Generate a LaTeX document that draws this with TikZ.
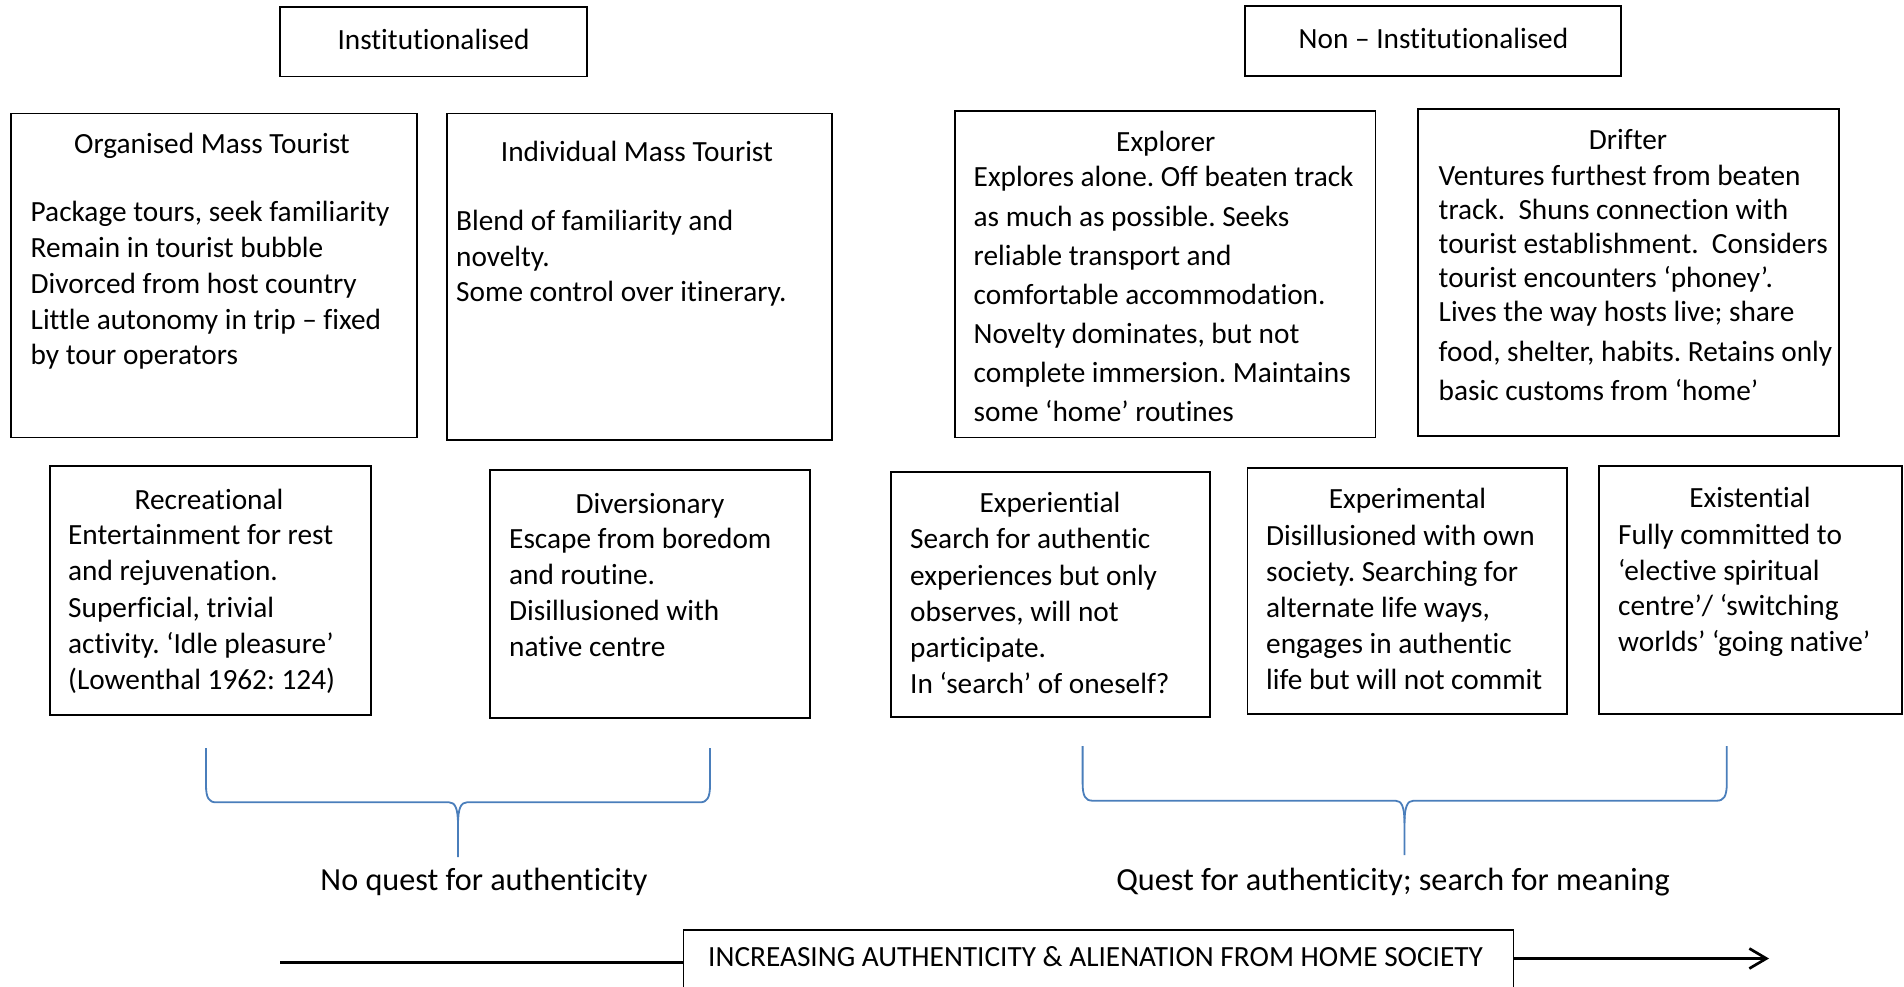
\documentclass[tikz,border=0pt]{standalone}
\usepackage{fontspec}
\setmainfont{Carlito}[Ligatures=NoCommon]
\usetikzlibrary{arrows.meta}
\definecolor{braceblue}{HTML}{4A7EBB}
\newcommand{\mytopstrut}{\rule{0pt}{24pt}}
\frenchspacing
\begin{document}
\frenchspacing
\begin{tikzpicture}[x=1pt,y=-1pt,
  box/.style={draw, line width=1.8pt, inner sep=0pt, outer sep=0pt},
  ttl/.style={anchor=base, inner sep=0pt, font=\fontsize{29.3}{36}\selectfont},
  lbl/.style={anchor=base, inner sep=0pt, font=\fontsize{32.2}{39}\selectfont},
  body/.style={anchor=north west, inner sep=0pt, align=left, font=\fontsize{29.3}{#1}\selectfont},
  bracepath/.style={draw=braceblue, line width=1.8pt, line join=round},
  arrowline/.style={line width=2.7pt}]
\useasboundingbox (0,0) rectangle (1904,987);
\clip (0,0) rectangle (1904,987);
\fill[white] (0,0) rectangle (1904,987);

% header boxes
\node[box, minimum width=307pt, minimum height=69.5pt] (inst) at (433.5,41.75) {};
\node[ttl] (instt) at (433.5,49.3) {Institutionalised};
\node[box, minimum width=376pt, minimum height=70pt] (noninst) at (1433,41) {};
\node[ttl] (noninstt) at (1433.5,48.3) {Non – Institutionalised};

% upper row
\node[box, minimum width=406pt, minimum height=324pt] (org) at (214,275.5) {};
\node[ttl] (orgt) at (212,153.3) {Organised Mass Tourist};
\node[body=35.75] (orgb) at (30.5,197.7) {\mytopstrut Package tours, seek familiarity\\Remain in tourist bubble\\Divorced from host country\\Little autonomy in trip – fixed\\by tour operators};

\node[box, minimum width=385pt, minimum height=326.5pt] (ind) at (639.5,276.75) {};
\node[ttl] (indt) at (637,161.7) {Individual Mass Tourist};
\node[body=35.5] (indb) at (456,206.7) {\mytopstrut Blend of familiarity and\\novelty.\\Some control over itinerary.};

\node[box, minimum width=420.5pt, minimum height=326.5pt] (expl) at (1165.25,274.25) {};
\node[ttl] (explt) at (1165.8,151.4) {Explorer};
\node[body=39.17] (explb) at (973.5,162.7) {\mytopstrut Explores alone. Off beaten track\\as much as possible. Seeks\\reliable transport and\\comfortable accommodation.\\Novelty dominates, but not\\complete immersion. Maintains\\some ‘home’ routines};

\node[box, minimum width=421pt, minimum height=327pt] (drif) at (1628.5,272.5) {};
\node[ttl] (drift) at (1628,149.7) {Drifter};
\node[body=34] (drifb) at (1438.5,161.7) {\mytopstrut Ventures furthest from beaten\\track.\ \ Shuns connection with\\tourist establishment.\ \ Considers\\tourist encounters ‘phoney’.\\Lives the way hosts live; share\\[6pt]food, shelter, habits. Retains only\\[5pt]basic customs from ‘home’};

% lower row
\node[box, minimum width=321pt, minimum height=249pt] (rec) at (210.5,590.5) {};
\node[ttl] (rect) at (209,509) {Recreational};
\node[body=36.1] (recb) at (68,520.6) {\mytopstrut Entertainment for rest\\and rejuvenation.\\Superficial, trivial\\activity. ‘Idle pleasure’\\(Lowenthal 1962: 124)};

\node[box, minimum width=320pt, minimum height=248pt] (div) at (650,594) {};
\node[ttl] (divt) at (650,513) {Diversionary};
\node[body=36] (divb) at (509,524) {\mytopstrut Escape from boredom\\and routine.\\Disillusioned with\\native centre};

\node[box, minimum width=319pt, minimum height=245.4pt] (expi) at (1050.5,594.3) {};
\node[ttl] (expit) at (1050,512) {Experiential};
\node[body=36.2] (expib) at (910,524.7) {\mytopstrut Search for authentic\\experiences but only\\observes, will not\\participate.\\In ‘search’ of oneself?};

\node[box, minimum width=319.5pt, minimum height=246pt] (expm) at (1407.25,590.75) {};
\node[ttl] (expmt) at (1407.4,508.7) {Experimental};
\node[body=36] (expmb) at (1266,521.3) {\mytopstrut Disillusioned with own\\society. Searching for\\alternate life ways,\\engages in authentic\\life but will not commit};

\node[box, minimum width=303pt, minimum height=247.7pt] (exis) at (1750.5,589.85) {};
\node[ttl] (exist) at (1750,507.6) {Existential};
\node[body=35.8] (exisb) at (1618,520) {\mytopstrut Fully committed to\\‘elective spiritual\\centre’/ ‘switching\\worlds’ ‘going native’};

% braces
\draw[bracepath] (206,748) -- (206,785) .. controls (206,798) and (209,802.3) .. (216,802.3)
  -- (449,802.3) .. controls (455,802.3) and (458,808) .. (458,825) -- (458,857);
\draw[bracepath] (458,825) .. controls (458,808) and (461,802.3) .. (467,802.3)
  -- (700,802.3) .. controls (707,802.3) and (710,798) .. (710,785) -- (710,748);
\node[lbl] (noq) at (484,890) {No quest for authenticity};

\draw[bracepath] (1082.6,746) -- (1082.6,783) .. controls (1082.6,796.5) and (1085.6,800.7) .. (1092.6,800.7)
  -- (1395.5,800.7) .. controls (1401.5,800.7) and (1404.5,806.5) .. (1404.5,823) -- (1404.5,855);
\draw[bracepath] (1404.5,823) .. controls (1404.5,806.5) and (1407.5,800.7) .. (1413.5,800.7)
  -- (1716.8,800.7) .. controls (1723.8,800.7) and (1726.8,796.5) .. (1726.8,783) -- (1726.8,746);
\node[lbl] (q) at (1393,890) {Quest for authenticity; search for meaning};

% bottom arrow
\node[box, minimum width=830pt, minimum height=80pt] (bot) at (1098.5,970) {};
\node[anchor=base west, inner sep=0pt, font=\fontsize{29.3}{36}\selectfont] (bott) at (708,966.7) {INCREASING AUTHENTICITY \& ALIENATION FROM HOME SOCIETY};
\coordinate (as) at (280,962.5);
\coordinate (ae) at (1769,958.5);
\draw[arrowline] (as) -- (as -| bot.west);
\draw[arrowline, -{Straight Barb[length=17pt,width=20pt]}] (bot.east |- ae) -- (ae);
\end{tikzpicture}
\end{document}
